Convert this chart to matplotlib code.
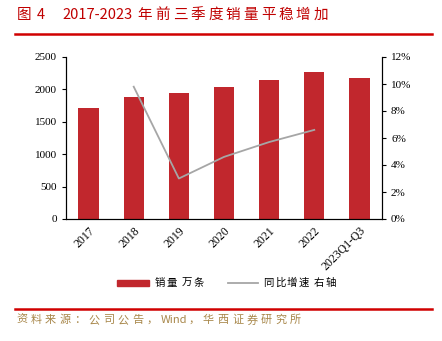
import re
import numpy as np
from matplotlib import pyplot as plt
from matplotlib.ticker import FuncFormatter
from matplotlib.patches import Rectangle

plt.rcParams['font.family'] = ['Liberation Serif', 'Noto Sans CJK SC', 'DejaVu Sans']

# Datos
categorias = ['2017', '2018', '2019', '2020', '2021', '2022', '2023Q1-Q3']
ventas = [1713, 1883, 1944, 2037, 2145, 2268, 2176]
crecimiento = [None, 9.8, 3.0, 4.6, 5.7, 6.6, None]

rojo = '#C1272D'
gris = '#A6A6A6'
W, H = 442, 341

fig = plt.figure(figsize=(4.42, 3.41), dpi=100)
renderer = fig.canvas.get_renderer()


def texto_espaciado(x, y, s, size, color, extra):
    # caracteres chinos con paso fijo, texto latino en bloque
    em = size * 100 / 72
    for trozo in re.findall(r'[\x21-\x7e]+| |[^\x00-\x7f]', s):
        if trozo == ' ':
            x += em * 0.3
            continue
        t = fig.text(x / W, 1 - y / H, trozo, color=color, fontsize=size, va='center',
                     family=['Noto Sans CJK SC'])
        if ord(trozo[0]) > 127:
            x += em + extra
        else:
            x += t.get_window_extent(renderer).width + em * 0.08
    return x


ax = fig.add_axes([66/W, 1 - 219/H, (382-66)/W, (219-57)/H])
x = np.arange(len(categorias))

ax.bar(x, ventas, width=0.45, color=rojo)
ax.set_ylim(0, 2500)
ax.set_yticks(range(0, 2501, 500))
ax.set_xlim(-0.5, len(categorias) - 0.5)
ax.set_xticks(x)
ax.set_xticklabels(categorias, rotation=45, ha='right', rotation_mode='anchor')
ax.tick_params(axis='x', length=0, labelsize=8.5, pad=4)
ax.tick_params(axis='y', labelsize=8, length=3, direction='out')
ax.spines['top'].set_visible(False)

ax2 = ax.twinx()
xs = [i for i, v in enumerate(crecimiento) if v is not None]
ys = [v for v in crecimiento if v is not None]
ax2.plot(xs, ys, color=gris, lw=1.3)
ax2.set_ylim(0, 12)
ax2.set_yticks(range(0, 13, 2))
ax2.yaxis.set_major_formatter(FuncFormatter(lambda v, p: '%d%%' % v))
ax2.tick_params(axis='y', labelsize=8, length=3, direction='out')
ax2.spines['top'].set_visible(False)

# Leyenda
fig.add_artist(Rectangle((117/W, 1 - 286/H), 32/W, 6/H, color=rojo, transform=fig.transFigure))
fig.add_artist(plt.Line2D([228/W, 258/W], [1 - 283/H, 1 - 283/H], color=gris, lw=1.3))
texto_espaciado(155, 283, '销量 万条', 7.5, 'black', 1.5)
texto_espaciado(263, 283, '同比增速 右轴', 7.5, 'black', 1.5)

# Titulo y lineas
fig.text(17/W, 1 - 15/H, '图', color='#C00000', fontsize=10.5, va='center',
         family=['Noto Sans CJK SC'])
fig.text(37/W, 1 - 15/H, '4', color='#C00000', fontsize=10.5, va='center',
         family=['Noto Sans CJK SC'])
texto_espaciado(62, 15, '2017-2023 年前三季度销量平稳增加', 10.5, '#C00000', 3.0)
fig.add_artist(plt.Line2D([15/W, 432/W], [1 - 34/H, 1 - 34/H], color='#D00000', lw=1.8))
fig.add_artist(plt.Line2D([15/W, 432/W], [1 - 309/H, 1 - 309/H], color='#D00000', lw=1.8))
texto_espaciado(16, 320, '资料来源：公司公告，Wind，华西证券研究所', 8, '#A8874A', 3.4)

fig.savefig('out.png', dpi=100)
